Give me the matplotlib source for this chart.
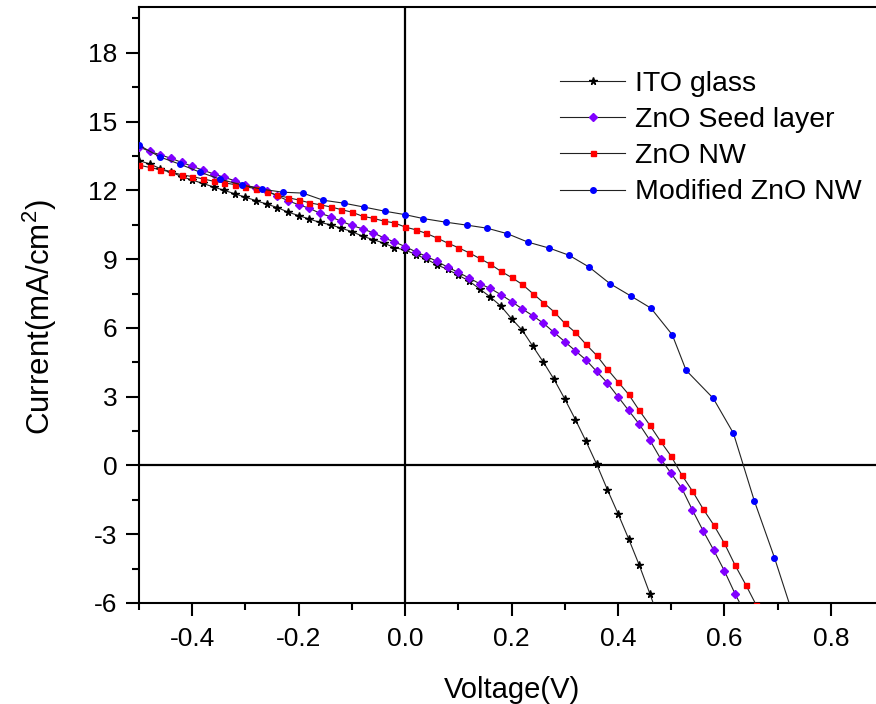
import numpy as np
import matplotlib
matplotlib.use("Agg")
import matplotlib.pyplot as plt
from matplotlib.ticker import MultipleLocator

plt.rcParams['font.family'] = ['Liberation Sans', 'DejaVu Sans']
plt.rcParams['mathtext.fontset'] = 'custom'
plt.rcParams['mathtext.rm'] = 'Liberation Sans'
plt.rcParams['axes.unicode_minus'] = False

V_START = -0.5
V_STEP = 0.02

# ITO glass, points every 0.02 V from -0.5 V
ito_j = [13.3, 13.15, 12.95, 12.8, 12.6, 12.45, 12.3, 12.15, 12.0, 11.85,
         11.7, 11.55, 11.4, 11.25, 11.05, 10.9, 10.75, 10.6, 10.5, 10.35,
         10.2, 10.0, 9.85, 9.7, 9.5, 9.4, 9.2, 9.0, 8.75, 8.55,
         8.3, 8.05, 7.7, 7.35, 6.95, 6.4, 5.9, 5.2, 4.5, 3.75,
         2.9, 2.0, 1.05, 0.05, -1.05, -2.1, -3.2, -4.35, -5.6, -6.9]

# ZnO seed layer
seed_j = [13.9, 13.7, 13.55, 13.4, 13.22, 13.05, 12.88, 12.72, 12.57, 12.42,
          12.22, 12.12, 11.98, 11.76, 11.55, 11.37, 11.22, 11.0, 10.85, 10.65,
          10.47, 10.32, 10.15, 9.93, 9.75, 9.55, 9.32, 9.12, 8.9, 8.65,
          8.42, 8.18, 7.93, 7.72, 7.45, 7.15, 6.83, 6.53, 6.2, 5.8,
          5.4, 5.0, 4.6, 4.1, 3.6, 3.0, 2.4, 1.8, 1.1, 0.3,
          -0.35, -1.0, -1.95, -2.85, -3.7, -4.6, -5.6, -6.5]

# ZnO NW
nw_j = [13.1, 13.0, 12.9, 12.8, 12.68, 12.6, 12.5, 12.4, 12.33, 12.25,
        12.16, 12.07, 11.95, 11.78, 11.68, 11.58, 11.46, 11.37, 11.28, 11.16,
        11.05, 10.87, 10.78, 10.66, 10.58, 10.4, 10.28, 10.12, 9.92, 9.7,
        9.5, 9.28, 9.03, 8.78, 8.47, 8.2, 7.9, 7.5, 7.1, 6.7,
        6.2, 5.8, 5.28, 4.8, 4.2, 3.65, 3.1, 2.4, 1.75, 1.05,
        0.4, -0.42, -1.12, -1.9, -2.6, -3.4, -4.35, -5.2, -6.1]

ito_v = V_START + V_STEP * np.arange(len(ito_j))
seed_v = V_START + V_STEP * np.arange(len(seed_j))
nw_v = V_START + V_STEP * np.arange(len(nw_j))

# Modified ZnO NW
mod_v = [-0.5, -0.46, -0.423, -0.385, -0.348, -0.306, -0.269, -0.23, -0.192,
         -0.154, -0.115, -0.077, -0.038, 0.0, 0.034, 0.077, 0.117, 0.154,
         0.192, 0.231, 0.271, 0.308, 0.346, 0.385, 0.425, 0.462, 0.502,
         0.528, 0.579, 0.617, 0.656, 0.694, 0.73]
mod_j = [13.97, 13.45, 13.14, 12.79, 12.49, 12.23, 12.05, 11.92, 11.88,
         11.57, 11.44, 11.27, 11.09, 10.94, 10.77, 10.61, 10.48, 10.35,
         10.11, 9.74, 9.48, 9.17, 8.65, 7.93, 7.38, 6.86, 5.7,
         4.15, 2.93, 1.4, -1.53, -4.02, -6.6]

x_ticks = [-0.4, -0.2, 0.0, 0.2, 0.4, 0.6, 0.8]
x_ticklabels = ['-0.4', '-0.2', '0.0', '0.2', '0.4', '0.6', '0.8']

fig = plt.figure(figsize=(8.76, 7.04), dpi=100)
ax = fig.add_axes([0.1587, 0.1435, 0.8505, 0.8466])

ax.axhline(0, color='black', lw=1.6, zorder=1)
ax.axvline(0, color='black', lw=1.6, zorder=1)

line_kw = dict(color='#222222', lw=0.8, zorder=3)
ax.plot(ito_v, ito_j, marker='*', ms=5.5, mfc='black', mec='black', label='ITO glass', **line_kw)
ax.plot(seed_v, seed_j, marker='D', ms=4.4, mfc='#8000FF', mec='#8000FF', label='ZnO Seed layer', **line_kw)
ax.plot(nw_v, nw_j, marker='s', ms=3.6, mfc='#FF0000', mec='#FF0000', label='ZnO NW', **line_kw)
ax.plot(mod_v, mod_j, marker='o', ms=4, mfc='#0000FF', mec='#0000FF', label='Modified ZnO NW', **line_kw)

ax.set_xlim(-0.5, 0.9)
ax.set_ylim(-6, 20)
ax.xaxis.set_minor_locator(MultipleLocator(0.1))
ax.yaxis.set_major_locator(MultipleLocator(3))
ax.yaxis.set_minor_locator(MultipleLocator(1.5))
ax.set_xticks(x_ticks)
ax.set_xticklabels(x_ticklabels)

for s in ax.spines.values():
    s.set_linewidth(1.5)
ax.tick_params(which='major', direction='out', length=9.5, width=1.5, labelsize=19)
ax.tick_params(which='minor', direction='out', length=5, width=1.5)
ax.tick_params(axis='y', which='major', pad=6)
ax.tick_params(axis='x', which='major', pad=8)

ax.set_xlabel('Voltage(V)', fontsize=21, labelpad=18)
ax.set_ylabel('Current(mA/cm$^{2}$)', fontsize=22.5, labelpad=21)
ax.yaxis.label.set_y(0.48)

leg = ax.legend(loc='upper left', bbox_to_anchor=(0.565, 0.893), frameon=False,
                fontsize=20.5, numpoints=1, handlelength=2.3, handletextpad=0.35,
                labelspacing=0.36, borderpad=0, borderaxespad=0)

fig.savefig('out.png', dpi=100)
